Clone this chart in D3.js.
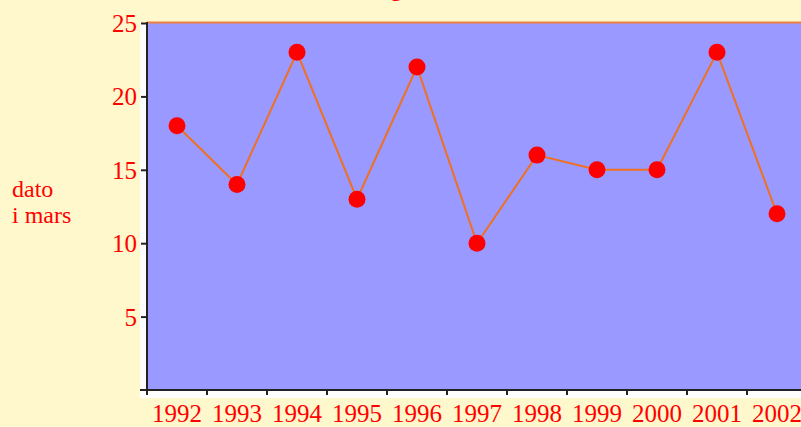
<!DOCTYPE html>
<html>
<head>
<meta charset="utf-8">
<script src="https://cdn.jsdelivr.net/npm/d3@7"></script>
<style>
  html, body { margin: 0; padding: 0; background: #fff8cc; }
  svg { display: block; }
  text { font-family: "Liberation Serif", "Times New Roman", serif; fill: #ff0000; }
</style>
</head>
<body>
<svg id="chart" width="801" height="427"></svg>
<script>
// data
const years = ['1992', '1993', '1994', '1995', '1996', '1997', '1998', '1999', '2000', '2001', '2002']
const days = [18, 14, 23, 13, 22, 10, 16, 15, 15, 23, 12]
const yTicks = [5, 10, 15, 20, 25]

const svg = d3.select('#chart')
const plotLeft = 147, plotTop = 23, plotBottom = 390, bandW = 60

// x runs past the right edge of the window, like the original
const x = d3.scaleBand().domain(years).range([plotLeft, plotLeft + bandW * years.length])
const y = d3.scaleLinear().domain([0, 25]).range([plotBottom, plotTop])

// white frame round the plot, then the blue plot area
svg.append('rect')
  .attr('x', plotLeft - 7).attr('y', plotTop)
  .attr('width', 801 - plotLeft + 7).attr('height', plotBottom - plotTop + 8)
  .attr('fill', '#ffffff')
svg.append('rect')
  .attr('x', plotLeft).attr('y', plotTop)
  .attr('width', 801 - plotLeft).attr('height', plotBottom - plotTop)
  .attr('fill', '#9999ff')
// orange top border
svg.append('line')
  .attr('x1', plotLeft).attr('x2', 801)
  .attr('y1', plotTop - 0.5).attr('y2', plotTop - 0.5)
  .attr('stroke', '#f08040').attr('stroke-width', 2)

// title, mostly above the window
svg.append('text')
  .attr('x', 402).attr('y', -4)
  .attr('text-anchor', 'end')
  .style('font-size', '24px')
  .text('Første blomstring')

// axes
const yAxis = svg.append('g')
  .attr('transform', `translate(${plotLeft},0)`)
  .call(d3.axisLeft(y).tickValues(yTicks).tickSize(6).tickPadding(4).tickSizeOuter(0))
const xAxis = svg.append('g')
  .attr('transform', `translate(0,${plotBottom})`)
  .call(d3.axisBottom(x).tickSize(5).tickPadding(9).tickSizeOuter(0))

// ticks between bands instead of at centres
xAxis.selectAll('.tick line')
  .attr('x1', -bandW / 2).attr('x2', -bandW / 2)
xAxis.append('line')
  .attr('x1', x.range()[1] - 0.5).attr('x2', x.range()[1] - 0.5)
  .attr('y1', 0).attr('y2', 5)
  .attr('stroke', '#222').attr('stroke-width', 2)

for (const ax of [xAxis, yAxis]) {
  ax.select('.domain').attr('stroke', '#222').attr('stroke-width', 2)
  ax.selectAll('.tick line').attr('stroke', '#222').attr('stroke-width', 2)
  ax.selectAll('.tick text')
    .attr('fill', '#ff0000')
    .style('font-family', '"Liberation Serif", serif')
    .style('font-size', '25px')
}
xAxis.select('.domain').attr('d', `M${plotLeft - 7},0H${x.range()[1]}`)
yAxis.select('.domain').attr('d', `M0,${plotTop - 1}V${plotBottom}`)
yAxis.selectAll('.tick text').attr('dy', '0.34em')

// y label
svg.append('text')
  .attr('x', 12).attr('y', 197)
  .style('font-size', '24px')
  .selectAll('tspan')
  .data(['dato', 'i mars'])
  .join('tspan')
  .attr('x', 12)
  .attr('dy', (d, i) => i === 0 ? 0 : 26)
  .text(d => d)

// line and markers
const cx = d => x(d) + x.bandwidth() / 2
const line = d3.line()
  .x((d, i) => cx(years[i]))
  .y(d => y(d))
svg.append('path')
  .datum(days)
  .attr('d', line)
  .attr('fill', 'none')
  .attr('stroke', '#f07020')
  .attr('stroke-width', 2)

svg.selectAll('circle.pt')
  .data(days)
  .join('circle')
  .attr('class', 'pt')
  .attr('cx', (d, i) => cx(years[i]))
  .attr('cy', d => y(d))
  .attr('r', 8.5)
  .attr('fill', '#ff0000')
</script>
</body>
</html>
